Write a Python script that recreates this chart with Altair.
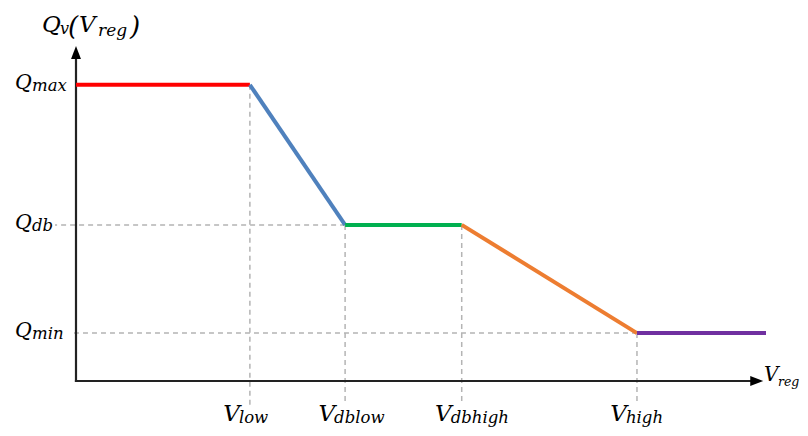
import altair as alt
import pandas as pd

# ---- values (abstract units) ----
V_NAMES = ["low", "dblow", "dbhigh", "high"]
V_VALUES = [2.52, 3.90, 5.59, 8.13]
V_END = 10.0
Q_NAMES = ["max", "db", "min"]
Q_VALUES = [8.84, 4.66, 1.43]
SEG_NAMES = ["Qmax", "low-ramp", "deadband", "high-ramp", "Qmin"]
SEG_COLORS = ["#FF0000", "#4F81BD", "#00B050", "#ED7D31", "#7030A0"]

FONT = "DejaVu Serif"
W, H = 792, 420
xs = alt.Scale(domain=[0, 10], range=[68, 758], nice=False, zero=False)
ys = alt.Scale(domain=[0, 10], range=[373, 38], nice=False, zero=False)

Qmax, Qdb, Qmin = Q_VALUES
xp = [0.0] + V_VALUES + [V_END]
qp = [Qmax, Qmax, Qdb, Qdb, Qmin, Qmin]
seg = pd.DataFrame({
    "x": xp[:-1], "y": qp[:-1], "x2": xp[1:], "y2": qp[1:], "seg": SEG_NAMES,
})

X = lambda f: alt.X(f, scale=xs, axis=None)
Y = lambda f: alt.Y(f, scale=ys, axis=None)

# dashed guides
vguide = pd.DataFrame({"x": V_VALUES, "y": [Qmax, Qdb, Qdb, Qmin]})
guide_style = dict(color="#B4B4B4", strokeWidth=1.5, strokeDash=[5, 4])
vg = alt.Chart(vguide).mark_rule(**guide_style).encode(
    x=X("x:Q"), y=Y("y:Q"), y2=alt.value(397))
hg1 = alt.Chart(pd.DataFrame({"y": [Qdb], "x": [V_VALUES[1]]})).mark_rule(**guide_style).encode(
    x=X("x:Q"), x2=alt.value(47), y=Y("y:Q"))
hg2 = alt.Chart(pd.DataFrame({"y": [Qmin], "x": [V_VALUES[3]]})).mark_rule(**guide_style).encode(
    x=X("x:Q"), x2=alt.value(62), y=Y("y:Q"))

# axes with arrow heads
axis_style = dict(color="#222222", strokeWidth=2.2, strokeCap="square")
xaxis = alt.Chart(pd.DataFrame({"x": [0.0], "x2": [9.8], "y": [0.0]})).mark_rule(**axis_style).encode(
    x=X("x:Q"), x2="x2", y=Y("y:Q"))
yaxis = alt.Chart(pd.DataFrame({"x": [0.0], "y": [0.0], "y2": [9.7]})).mark_rule(**axis_style).encode(
    x=X("x:Q"), y=Y("y:Q"), y2="y2")
arrow_r = alt.Chart(pd.DataFrame({"x": [9.96], "y": [0.0]})).mark_point(
    shape="M 0 0 L -1 -0.38 L -1 0.38 Z", filled=True, size=676, opacity=1,
    color="#000000", strokeWidth=0).encode(x=X("x:Q"), y=Y("y:Q"))
arrow_u = alt.Chart(pd.DataFrame({"x": [0.0], "y": [10.0]})).mark_point(
    shape="M 0 0 L -0.38 1 L 0.38 1 Z", filled=True, size=676, opacity=1,
    color="#000000", strokeWidth=0).encode(x=X("x:Q"), y=Y("y:Q"))

# characteristic curve
curve = alt.Chart(seg).mark_rule(strokeWidth=4).encode(
    x=X("x:Q"), y=Y("y:Q"), x2="x2", y2="y2",
    color=alt.Color("seg:N", scale=alt.Scale(domain=SEG_NAMES, range=SEG_COLORS), legend=None),
)

txt_style = dict(font=FONT, fontStyle="italic", baseline="alphabetic", color="#000000")

qlab = pd.DataFrame({"q": Q_VALUES, "main": ["Q"] * 3, "sub": Q_NAMES})
q_main = alt.Chart(qlab).mark_text(align="left", fontSize=20.5, dy=4, **txt_style).encode(
    x=alt.value(7), y=Y("q:Q"), text="main:N")
q_sub = alt.Chart(qlab).mark_text(align="left", fontSize=16.5, dy=6, **txt_style).encode(
    x=alt.value(24), y=Y("q:Q"), text="sub:N")

vlab = pd.DataFrame({"v": V_VALUES, "main": ["V"] * 4, "sub": V_NAMES})
v_main = alt.Chart(vlab).mark_text(align="right", fontSize=23, dx=-10, **txt_style).encode(
    x=X("v:Q"), y=alt.value(413), text="main:N")
v_sub = alt.Chart(vlab).mark_text(align="left", fontSize=16.5, dx=-11, **txt_style).encode(
    x=X("v:Q"), y=alt.value(415), text="sub:N")


def txt(text, x, y, size):
    return alt.Chart(pd.DataFrame({"t": [text]})).mark_text(
        align="left", fontSize=size, **txt_style).encode(
        x=alt.value(x), y=alt.value(y), text="t:N")


title_parts = [
    txt("Q", 34, 24, 23), txt("v", 52, 26, 16), txt("(", 60, 27, 26),
    txt("V", 71, 24, 23), txt("reg", 90, 28, 17), txt(")", 122, 27, 26),
]
xlabel_parts = [txt("V", 756, 373, 20), txt("reg", 770, 378, 12.5)]

chart = alt.layer(
    vg, hg1, hg2, xaxis, yaxis, arrow_r, arrow_u, curve,
    q_main, q_sub, v_main, v_sub, *title_parts, *xlabel_parts,
).properties(
    width=W, height=H, autosize=alt.AutoSizeParams(type="none"), padding=0,
    background="white",
).configure_view(stroke=None)

chart.save("out.html", embed_options={"renderer": "svg", "actions": False})
